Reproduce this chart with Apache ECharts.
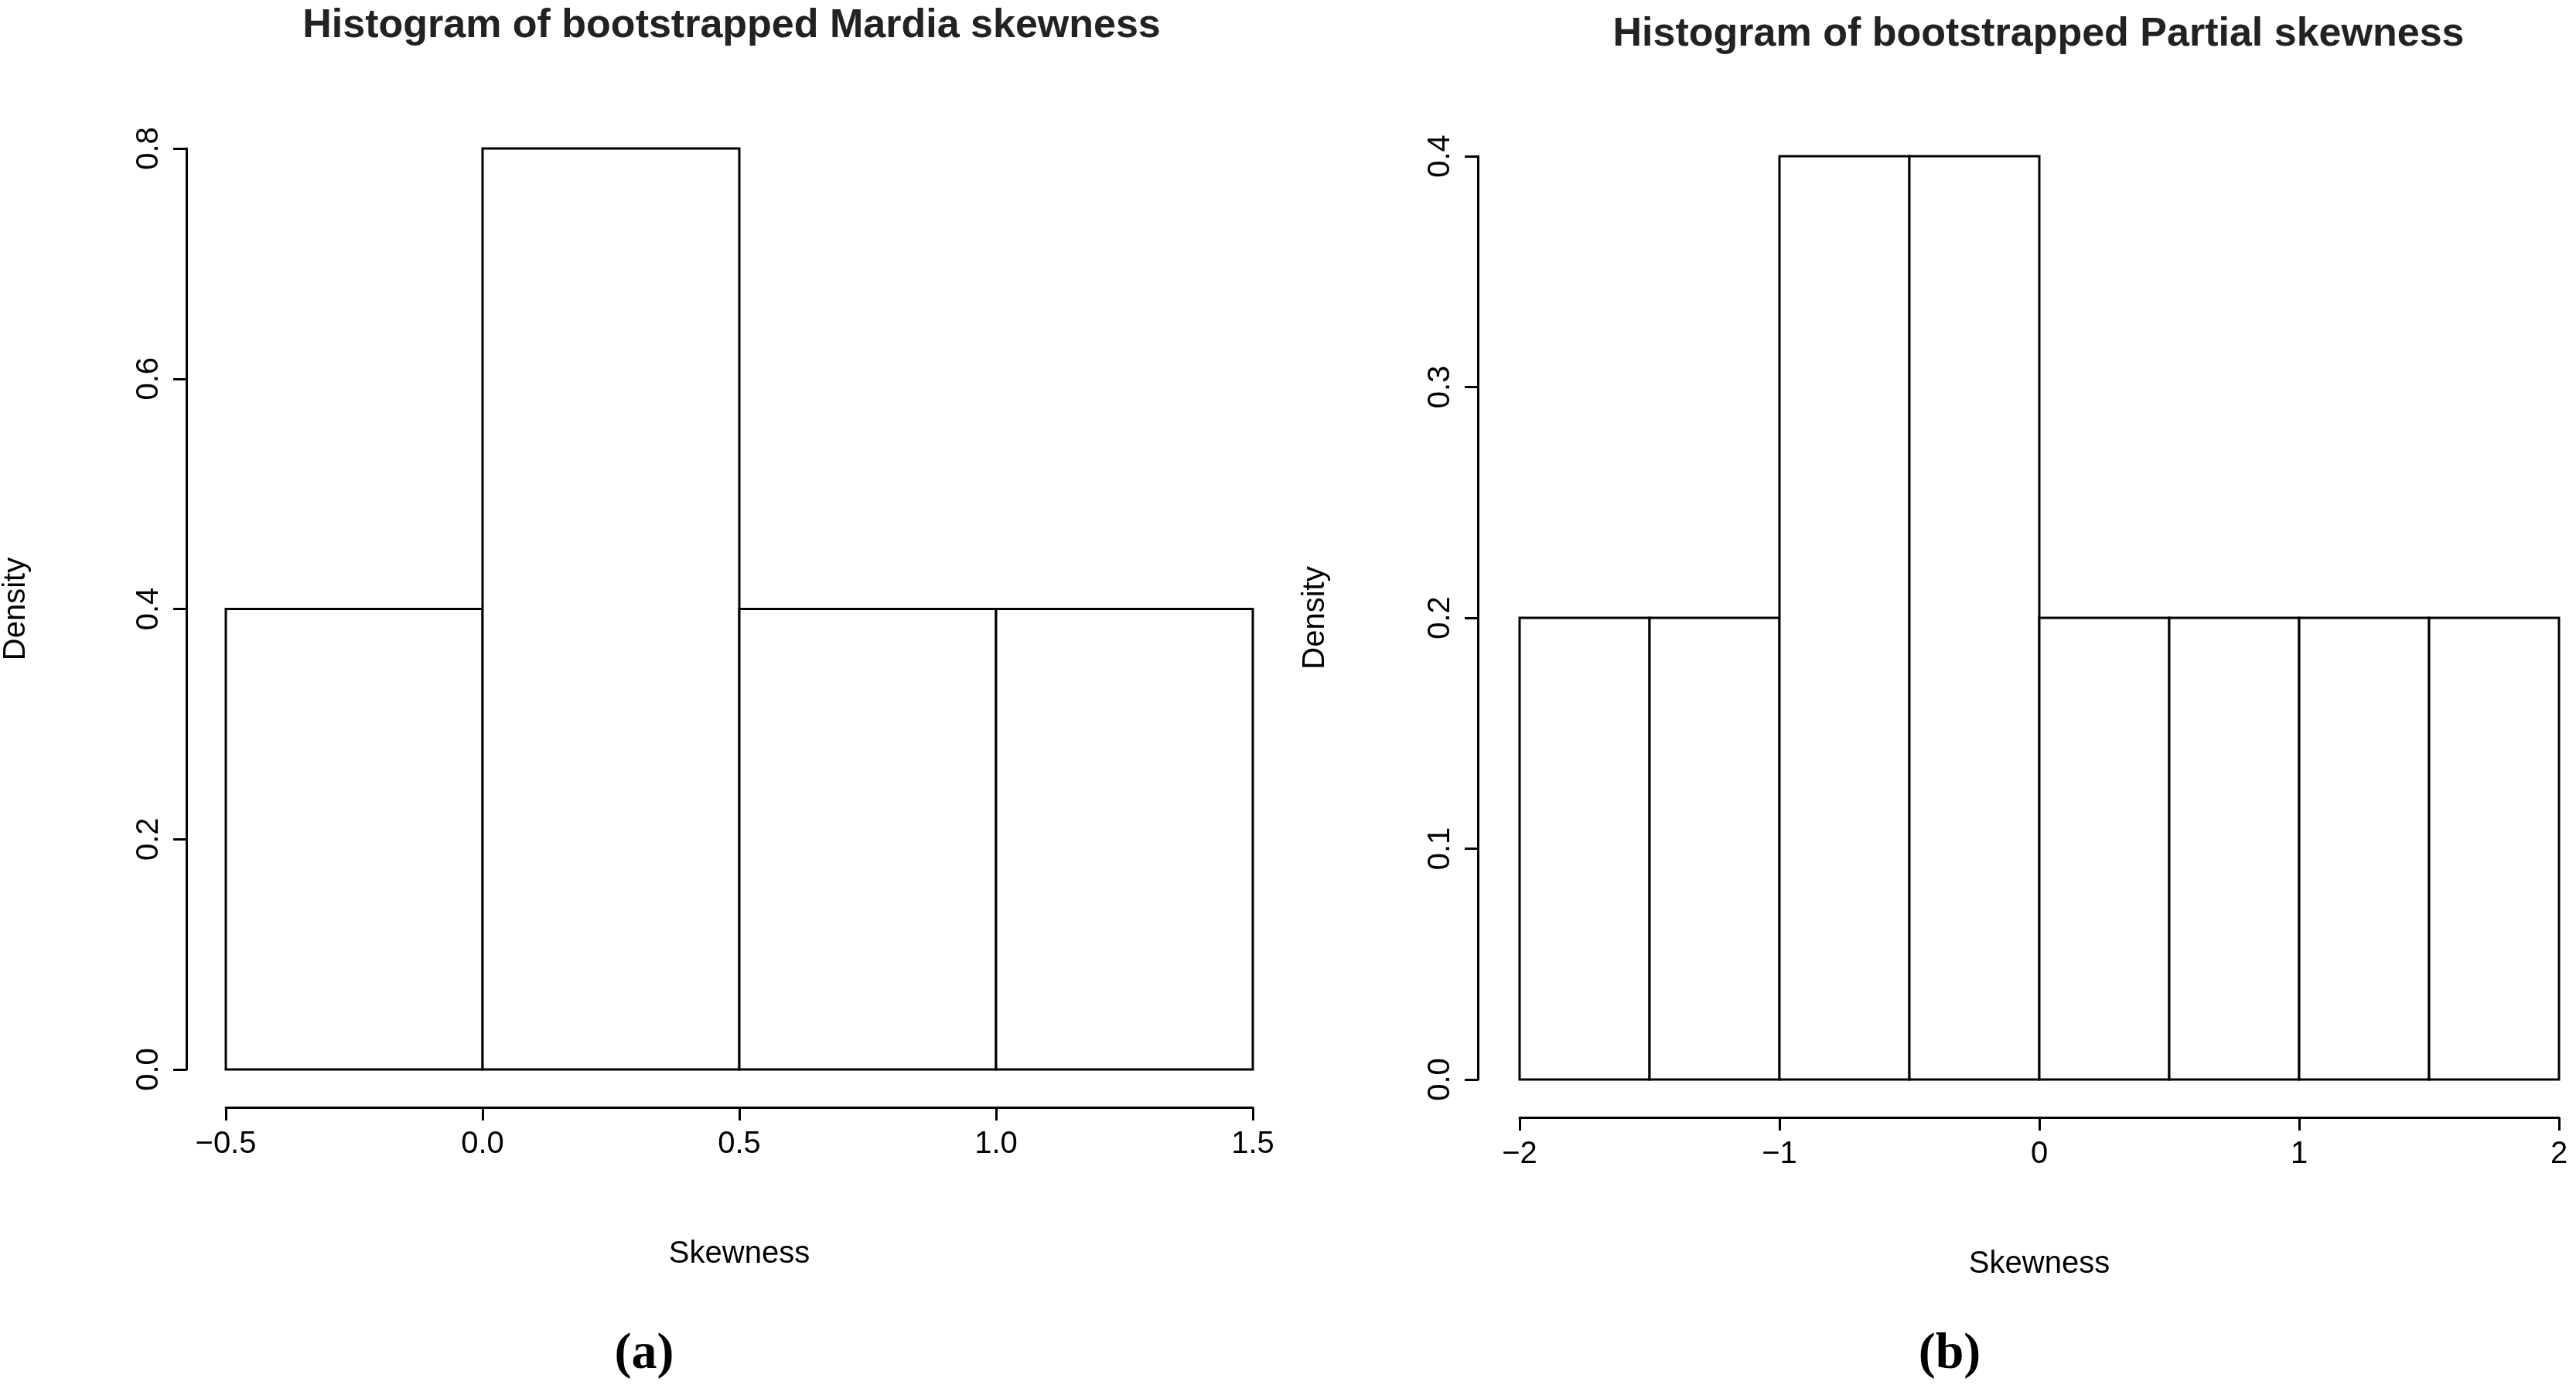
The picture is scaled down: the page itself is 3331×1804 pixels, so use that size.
<!DOCTYPE html>
<html><head><meta charset="utf-8">
<script src="https://cdn.jsdelivr.net/npm/echarts@6/dist/echarts.min.js"></script>
<style>html,body{margin:0;padding:0;background:#fff}#c{width:3331px;height:1804px}</style>
</head><body><div id="c"></div>
<script>
const mardiaEdges = [-0.5, 0, 0.5, 1, 1.5];
const mardiaDensity = [0.4, 0.8, 0.4, 0.4];
const partialEdges = [-2, -1.5, -1, -0.5, 0, 0.5, 1, 1.5, 2];
const partialDensity = [0.2, 0.2, 0.4, 0.4, 0.2, 0.2, 0.2, 0.2];
const mardiaXTicks = ['−0.5', '0.0', '0.5', '1.0', '1.5'];

function bins(edges, dens){ return dens.map((d,i)=>[edges[i], edges[i+1], d]); }
const font = 'Liberation Sans, Arial, sans-serif';
const lw = 3;
function render(params, api){
  const p0 = api.coord([api.value(0), api.value(2)]);
  const p1 = api.coord([api.value(1), 0]);
  return {type:'rect', shape:{x:p0[0], y:p0[1], width:p1[0]-p0[0], height:p1[1]-p0[1]},
    style:{fill:'#fff', stroke:'#000', lineWidth:lw}};
}
function xAxis(idx, min, max, interval, fmt){
  return {type:'value', gridIndex:idx, min, max, interval, position:'bottom', offset:49,
    name:'Skewness', nameLocation:'middle', nameGap:170,
    nameTextStyle:{fontFamily:font, fontSize:40, color:'#000'},
    splitLine:{show:false},
    axisLine:{onZero:false, lineStyle:{color:'#000', width:lw}},
    axisTick:{length:17, lineStyle:{color:'#000', width:lw}},
    axisLabel:{fontFamily:font, fontSize:40, color:'#000', margin:28, formatter:fmt}};
}
function yAxis(idx, max, interval, fmt, off){
  return {type:'value', gridIndex:idx, min:0, max, interval, offset:off, position:'left',
    name:'Density', nameLocation:'middle', nameGap: idx===0 ? 200 : 190, nameRotate:90,
    nameTextStyle:{fontFamily:font, fontSize:40, color:'#000'},
    splitLine:{show:false},
    axisLine:{show:true, onZero:false, lineStyle:{color:'#000', width:lw}},
    axisTick:{show:true, length:17, lineStyle:{color:'#000', width:lw}},
    axisLabel:{fontFamily:font, fontSize:40, color:'#000', rotate:90, margin:28, formatter:fmt}};
}
const chart = echarts.init(document.getElementById('c'));
chart.setOption({
  animation:false,
  backgroundColor:'#fff',
  grid:[{left:275, width:1345, top:192, height:1191},
        {left:1965, width:1344, top:202, height:1194}],
  xAxis:[xAxis(0,-0.5,1.5,0.5,v=>mardiaXTicks[Math.round((v+0.5)/0.5)]),
         xAxis(1,-2,2,1,v=>v<0?'−'+Math.abs(v):String(v))],
  yAxis:[yAxis(0,0.8,0.2,v=>v.toFixed(1),51), yAxis(1,0.4,0.1,v=>v.toFixed(1),54)],
  series:[
    {type:'custom', xAxisIndex:0, yAxisIndex:0, renderItem:render, data:bins(mardiaEdges,mardiaDensity), encode:{x:[0,1],y:2}},
    {type:'custom', xAxisIndex:1, yAxisIndex:1, renderItem:render, data:bins(partialEdges,partialDensity), encode:{x:[0,1],y:2}}
  ],
  graphic:[
    {type:'text', x:946, y:34, style:{text:'Histogram of bootstrapped Mardia skewness', font:'bold 52px '+font, fill:'#222', align:'center', verticalAlign:'middle'}},
    {type:'text', x:2636, y:45, style:{text:'Histogram of bootstrapped Partial skewness', font:'bold 52px '+font, fill:'#222', align:'center', verticalAlign:'middle'}},
    {type:'text', x:833, y:1752, style:{text:'(a)', font:'bold 66px Liberation Serif, serif', fill:'#000', align:'center', verticalAlign:'middle'}},
    {type:'text', x:2521, y:1752, style:{text:'(b)', font:'bold 66px Liberation Serif, serif', fill:'#000', align:'center', verticalAlign:'middle'}}
  ]
});
</script></body></html>
